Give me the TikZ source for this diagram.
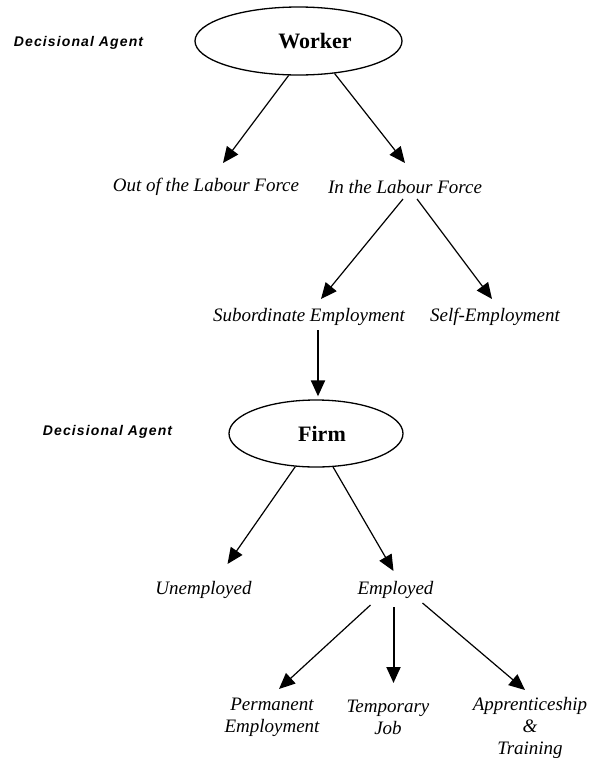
\documentclass[tikz,border=0pt]{standalone}
\usepackage{fontspec}
\setmainfont{Liberation Serif}
\newfontfamily\agentfont[LetterSpace=8]{Liberation Sans}
\usepackage{tikz}
\usetikzlibrary{shapes.geometric,arrows.meta}

\begin{document}
\begin{tikzpicture}[x=1pt, y=-1pt,
        agent/.style={font=\agentfont\fontsize{14}{17}\selectfont\bfseries\itshape, inner sep=0pt},
        decider/.style={draw, ellipse, line width=1.3pt, inner sep=0pt, font=\fontsize{22}{26}\selectfont\bfseries},
        choice/.style={font=\fontsize{19}{22}\selectfont\itshape, inner sep=0pt, align=center},
        arr/.style={-{Triangle[length=16pt,width=14pt]}, line width=1.2pt},
        varr/.style={arr, line width=2pt}]
        \useasboundingbox (0,0) rectangle (589,761);

        % Nodes
        \node (agentW) [agent] at (78.5,43) {Decisional Agent};
        \node (worker) [decider, minimum width=207pt, minimum height=68pt] at (298.5,41) {\hspace*{33pt}Worker};
        \node (out) [choice] at (206,187) {Out of the Labour Force};
        \node (in) [choice] at (405,187) {In the Labour Force};
        \node (sub) [choice] at (309,317) {Subordinate Employment};
        \node (self) [choice] at (495,317) {Self-Employment};
        \node (agentF) [agent] at (107.5,432) {Decisional Agent};
        \node (firm) [decider, minimum width=174pt, minimum height=67pt] at (316,433.5) {\hspace*{12pt}Firm};
        \node (unemp) [choice] at (203.5,590) {Unemployed};
        \node (emp) [choice] at (395.5,590) {Employed};
        \node (perm) [choice] at (272,717) {Permanent\\Employment};
        \node (temp) [choice] at (388,717) {Temporary\\Job};
        \node (appr) [choice] at (530,728) {Apprenticeship\\\&\\Training};

        % Edges
        \draw[arr] (worker.254) -- ([xshift=17pt,yshift=24pt]out.center);
        \draw[arr] (worker.318) -- ([yshift=24pt]in.center);
        \draw[arr] ([xshift=-2pt,yshift=-12pt]in.center) -- ([xshift=12pt,yshift=18pt]sub.center);
        \draw[arr] ([xshift=12pt,yshift=-12pt]in.center) -- ([xshift=-3pt,yshift=18pt]self.center);
        \draw[varr] ([xshift=9pt,yshift=-13pt]sub.center) -- ([xshift=2pt,yshift=3pt]firm.north);
        \draw[arr] (firm.238) -- ([xshift=24pt,yshift=26pt]unemp.center);
        \draw[arr] (firm.297) -- ([xshift=-2pt,yshift=19pt]emp.center);
        \draw[arr] ([xshift=-25pt,yshift=-15pt]emp.center) -- ([xshift=7pt,yshift=28pt]perm.center);
        \draw[varr] ([xshift=-2pt,yshift=-17pt]emp.center) -- ([xshift=5.5pt,yshift=34pt]temp.center);
        \draw[arr] ([xshift=27pt,yshift=-13pt]emp.center) -- ([xshift=-5pt,yshift=38pt]appr.center);
\end{tikzpicture}
\end{document}
